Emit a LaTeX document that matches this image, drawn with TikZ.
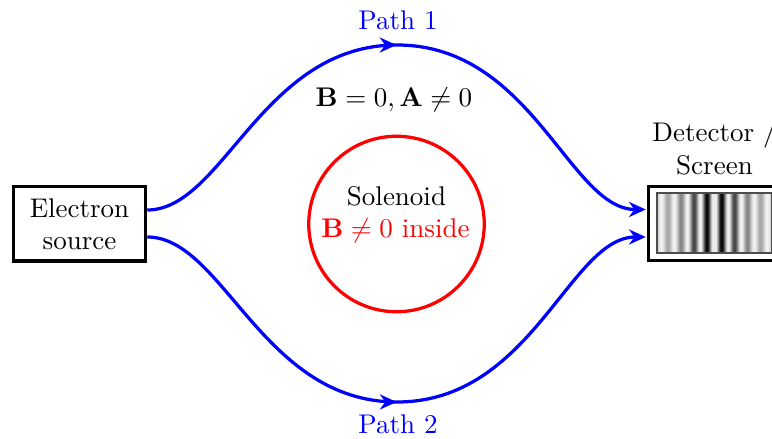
\documentclass[tikz,border=0pt]{standalone}
\usetikzlibrary{arrows.meta,decorations.markings,calc}
\begin{document}
\begin{tikzpicture}[x=0.3704pt,y=-0.3704pt,
  box/.style={draw=black,line width=1.2pt,minimum width=49pt,minimum height=27.5pt,align=center,inner sep=0pt},
  epath/.style={draw=blue,line width=1.2pt},
  endtip/.style={-{Stealth[length=6.2pt,width=5.6pt]}},
  midarrow/.style={postaction={decorate},decoration={markings,mark=at position 0.5 with {\arrow{Stealth[length=6.2pt,width=5.6pt]}}}},
  pathlbl/.style={text=blue},
  solcirc/.style={draw=red,line width=1.2pt}]
\useasboundingbox (0,0) rectangle (772,439);
\clip (0,0) rectangle (772,439);

% electron source
\node[box] (src) at (79.5,224) {Electron\\source};

% detector with interference pattern
\foreach \i in {0,...,115} {
  \pgfmathsetmacro\dd{abs(\i+657.5-714.5)}
  \pgfmathsetmacro\ph{27.692*(\dd-7.5)+180}
  \pgfmathsetmacro\p{100*(0.25+0.72*exp(-(\dd/28)^2))*(0.5-0.5*cos(\ph))+5}
  \fill[black!\p] (657+\i,193) rectangle (658.1+\i,253);
}
\node[draw=black!70,line width=0.4pt,minimum width=42.6pt,minimum height=22.2pt,inner sep=0pt] (pat) at (714.5,223) {};
\node[box] (det) at (714.5,223.5) {};
\node[align=center] (detlbl) at (714.5,148) {Detector /\\Screen};

% solenoid
\node[solcirc,circle,minimum size=65pt,inner sep=0pt] (sol) at (396.5,224) {};
\node (soltxt) at (396.5,196) {Solenoid};
\node[text=red] (bin) at (395.5,231) {$\mathbf{B}\neq 0$ inside};
\node (outside) at (394,100) {$\mathbf{B}=0,\mathbf{A}\neq 0$};

% paths
\coordinate (s1) at ($(src.east)+(0,-14)$);
\coordinate (s2) at ($(src.east)+(0,13)$);
\coordinate (t1) at (397,45);
\coordinate (t2) at (397,402);
\coordinate (e1) at ($(det.west)+(-1,-14)$);
\coordinate (e2) at ($(det.west)+(-1,13.5)$);
\draw[epath,endtip,midarrow] (s1) .. controls +(76,0) and +(-135,0) .. (t1)
  .. controls +(135,0) and +(-76,0) .. (e1);
\draw[epath,endtip,midarrow] (s2) .. controls +(76,0) and +(-135,0) .. (t2)
  .. controls +(135,0) and +(-76,0) .. (e2);

\node[pathlbl] (p1) at (398,20) {Path 1};
\node[pathlbl] (p2) at (398,424) {Path 2};
\end{tikzpicture}
\end{document}
